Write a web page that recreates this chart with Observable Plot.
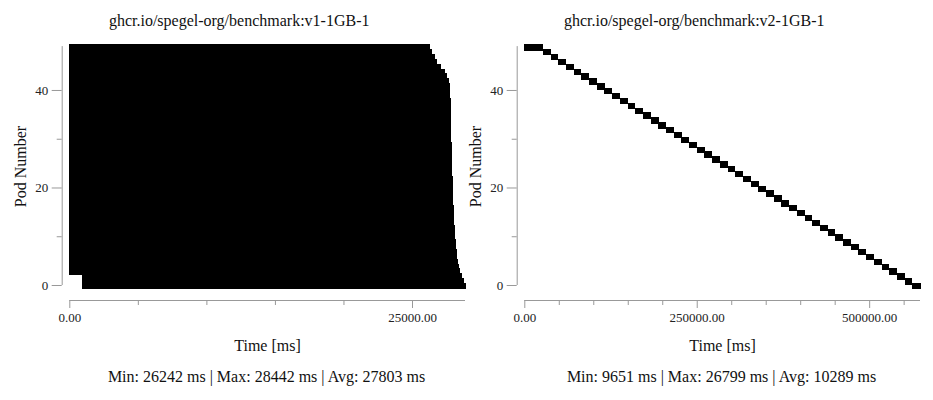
<!DOCTYPE html>
<html>
<head>
<meta charset="utf-8">
<script src="https://cdn.jsdelivr.net/npm/d3@7"></script>
<script src="https://cdn.jsdelivr.net/npm/@observablehq/plot@0.6"></script>
<style>
  body { margin: 0; background: #fff; }
  #wrap { position: relative; width: 933px; height: 400px; overflow: hidden; }
  #wrap svg { position: absolute; top: 0; }
</style>
</head>
<body>
<div id="wrap"></div>
<script>
// ---- Data ----
const pods = [0,1,2,3,4,5,6,7,8,9,10,11,12,13,14,15,16,17,18,19,20,21,22,23,24,25,26,27,28,29,30,31,32,33,34,35,36,37,38,39,40,41,42,43,44,45,46,47,48,49];

// v1: start / end time per pod (ms), index = pod number
const v1Start = [950,950,950,0,0,0,0,0,0,0,0,0,0,0,0,0,0,0,0,0,0,0,0,0,0,0,0,0,0,0,0,0,0,0,0,0,0,0,0,0,0,0,0,0,0,0,0,0,0,0];
const v1End = [28866,28750,28626,28442,28378,28300,28250,28210,28175,28145,
               28118,28095,28072,28050,28033,28018,28000,27985,27970,27958,
               27945,27935,27922,27910,27900,27893,27882,27872,27862,27852,
               27843,27835,27826,27818,27810,27802,27794,27786,27778,27770,
               27762,27740,27648,27532,27335,27043,26802,26605,26437,26242];

// v2: start time and duration per pod (ms), index = pod number
const v2Start = [563100,552140,540980,529810,518660,507500,496340,485170,474020,462860,
                 451700,440530,429380,418220,407060,395890,384740,373580,362420,351250,
                 340100,328940,317780,306610,295460,284300,273140,261970,250820,239660,
                 228500,217330,206180,195010,183860,172700,161540,150370,139220,128050,
                 116900,105720,94570,83400,72260,61080,49930,38750,27600,0];
const v2Duration = [10600,9890,10020,9830,9950,9910,10070,9850,9930,9790,
                    10040,9900,9960,9820,10000,9880,9940,9770,10100,9860,
                    9990,9930,9810,10050,9900,9960,9740,10010,9870,9950,
                    9780,10080,9920,9830,10030,9970,9720,9890,10060,9800,
                    9940,9850,10110,9990,9651,9910,10020,9760,9880,26799];

const titles = ["ghcr.io/spegel-org/benchmark:v1-1GB-1", "ghcr.io/spegel-org/benchmark:v2-1GB-1"];
const statsText = ["Min: 26242 ms | Max: 28442 ms | Avg: 27803 ms", "Min: 9651 ms | Max: 26799 ms | Avg: 10289 ms"];
const xLabel = "Time [ms]";
const yLabel = "Pod Number";
const yTicksMajor = [0, 20, 40];
const yTicksMinor = [10, 30];
const v1XTicksMajor = [0, 25000];
const v1XTicksMinor = [5000, 10000, 15000, 20000];
const v2XTicksMajor = [0, 250000, 500000];
const v2XTicksMinor = [50000, 100000, 150000, 200000, 300000, 350000, 400000, 450000, 550000];

// ---- Build ----
const v1Rows = pods.map((p, i) => ({pod: p, start: v1Start[i], end: v1End[i]}));
const v2Rows = pods.map((p, i) => ({pod: p, start: v2Start[i], end: v2Start[i] + v2Duration[i]}));

const FONT = "'Liberation Serif', 'DejaVu Serif', serif";
const AX = "#999";
const ML = 69.3, MT = 46.1;

function panel(rows, title, stat, xMajor, xMinor) {
  const xMax = d3.max(rows, d => d.end);
  return Plot.plot({
    width: 470,
    height: 400,
    marginLeft: ML,
    marginRight: 5,
    marginTop: MT,
    marginBottom: 100,
    style: {fontFamily: FONT, background: "transparent", overflow: "visible", color: "#222"},
    x: {domain: [0, xMax], axis: null},
    y: {domain: [0, 49], range: [285, MT], axis: null},
    marks: [
      Plot.rect(rows, {x1: "start", x2: "end", y1: d => d.pod - 0.8, y2: d => d.pod + 0.3,
                       fill: "black", stroke: "black", strokeWidth: 1, shapeRendering: "crispEdges"}),
      // y axis
      Plot.ruleX([0], {y1: 0, y2: 49, dx: -7.6, stroke: AX}),
      Plot.axisY(yTicksMajor, {anchor: "left", tickSize: 10, tickPadding: 4, dx: -7.6, stroke: AX, fill: "#222", fontSize: 13, label: null}),
      Plot.axisY(yTicksMinor, {anchor: "left", tickSize: 5, dx: -7.6, stroke: AX, text: null, label: null}),
      // x axis
      Plot.ruleY([0], {x1: 0, x2: xMax, dy: 15, stroke: AX}),
      Plot.axisX(xMajor, {anchor: "bottom", tickSize: 8, tickPadding: 4, stroke: AX, fill: "#222", fontSize: 13, tickFormat: d3.format(".2f"), label: null}),
      Plot.axisX(xMinor, {anchor: "bottom", tickSize: 5, stroke: AX, text: null, label: null}),
      // texts
      Plot.text([title], {frameAnchor: "top-left", dx: 238.7 - ML, dy: 26 - MT, lineAnchor: "bottom", textAnchor: "middle", fontSize: 16, fill: "#111"}),
      Plot.text([xLabel], {frameAnchor: "top-left", dx: 267 - ML, dy: 350 - MT, lineAnchor: "bottom", textAnchor: "middle", fontSize: 16, fill: "#111"}),
      Plot.text([stat], {frameAnchor: "top-left", dx: 266 - ML, dy: 381.7 - MT, lineAnchor: "bottom", textAnchor: "middle", fontSize: 16, fill: "#111"}),
      Plot.text([yLabel], {frameAnchor: "top-left", dx: 20.5 - ML, dy: 166 - MT, rotate: -90, lineAnchor: "middle", textAnchor: "middle", fontSize: 16, fill: "#111"})
    ]
  });
}

const wrap = document.getElementById("wrap");
const left = panel(v1Rows, titles[0], statsText[0], v1XTicksMajor, v1XTicksMinor);
left.style.left = "0px";
const right = panel(v2Rows, titles[1], statsText[1], v2XTicksMajor, v2XTicksMinor);
right.style.left = "455px";
wrap.appendChild(left);
wrap.appendChild(right);
</script>
</body>
</html>
